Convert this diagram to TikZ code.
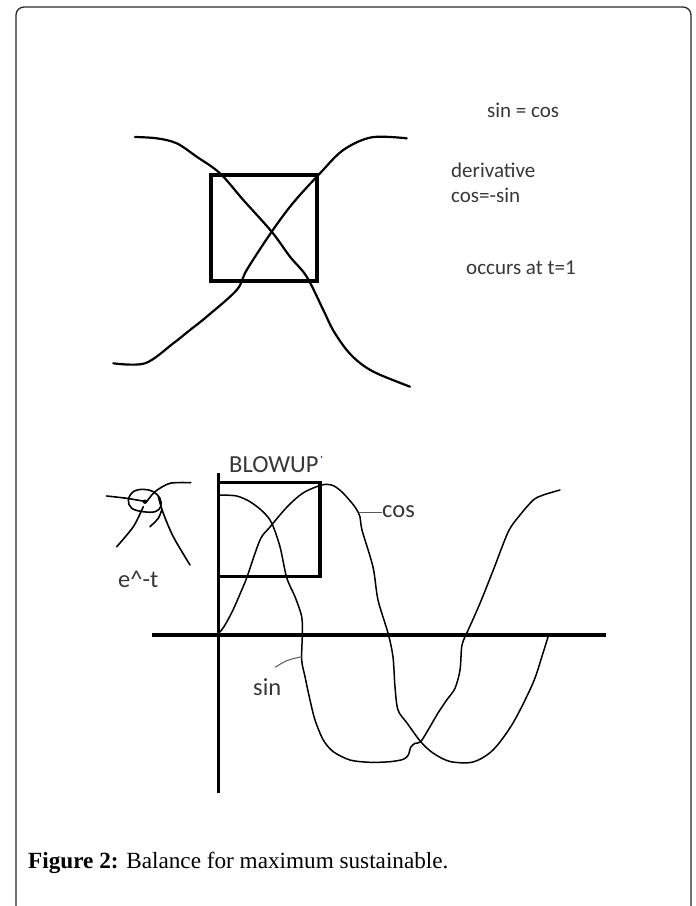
\documentclass[tikz,border=0pt]{standalone}
\usepackage{fontspec}
\setmainfont{Liberation Serif}
\newfontfamily\carlfont{Carlito}
\definecolor{txtgray}{RGB}{55,55,55}
\definecolor{framegray}{RGB}{40,40,40}
\definecolor{leadgray}{RGB}{90,90,90}
\begin{document}
\begin{tikzpicture}[x=1pt,y=-1pt,
  lbl/.style={anchor=base west,inner sep=0pt,text=txtgray,font=\carlfont\fontsize{21}{25}\selectfont},
  lblb/.style={anchor=base west,inner sep=0pt,text=txtgray,font=\carlfont\fontsize{24.5}{29}\selectfont},
  bigcurve/.style={line width=2.2pt,line join=round,line cap=round},
  smallcurve/.style={line width=1.5pt,line join=round,line cap=round},
  scribble/.style={line width=1.6pt,line join=round,line cap=round},
  heavybox/.style={line width=4pt},
  axisln/.style={line width=3.6pt},
  leader/.style={line width=1pt,draw=leadgray},
  framestyle/.style={line width=1.3pt,draw=framegray,rounded corners=8pt}]
\useasboundingbox (0,0) rectangle (696,906);
% frame (open at the bottom)
\draw[framestyle] (16,910) -- (16,7) -- (691,7) -- (691,910);

% ---------- top figure ----------
\draw[heavybox] (211.3,175.3) rectangle (317.3,280.7);
\draw[bigcurve] plot[smooth,tension=0.55] coordinates {
  (135,137) (156.7,138.3) (176.7,143.3) (196.7,156.7) (220,173.3) (243.3,200)
  (271.7,231.7) (290,256.7) (306.7,276.7) (323.3,310) (333,330) (346.7,350)
  (360,363) (376.7,373.3) (410,386.7)};
\draw[bigcurve] plot[smooth,tension=0.55] coordinates {
  (113.3,363.3) (145,363.3) (173.3,343.3) (190,330) (206.7,316.7) (236.7,290)
  (246.7,270) (271.7,231.7) (293,203) (320,173.3) (343.3,150) (371.7,137.3) (406.7,138.3)};

\node[lbl] (sincos) at (487,117) {sin = cos};
\node[lbl] (deriv) at (451,177) {derivative};
\node[lbl] (cosmsin) at (451,202) {cos=-sin};
\node[lbl] (occurs) at (466,274) {occurs at t=1};

% ---------- bottom figure ----------
\draw[axisln] (218.5,473) -- (218.5,793);
\draw[axisln] (152,635) -- (606,635);
\draw[heavybox,line width=3.4pt] (218.5,482.4) rectangle (320,576.6);

% curve labelled cos
\draw[smallcurve] plot[smooth,tension=0.5] coordinates {
  (220,632) (225,625) (233,610) (243,587) (247,577) (260,540) (270,527)
  (287,507) (303,493) (321.7,485) (333,485.5) (343,493) (355,507) (360,517)
  (362,530) (373,567) (378,600) (388,633) (393,657) (395,687) (398,710)
  (407,723) (420.7,741.7) (433,753) (450,761.5) (473,762) (493,750) (513,723)
  (533,683) (543,653) (548,637)};
% curve labelled sin
\draw[smallcurve] plot[smooth,tension=0.5] coordinates {
  (220,495) (236.7,496) (250,501.7) (263,511.7) (271.7,523) (280,546.7)
  (286.7,577.7) (295,596.7) (301.7,616.7) (302.3,635) (301.7,660) (305,676.7)
  (310,700) (315,720) (323.3,740) (333.3,751.7) (350,760) (370,762.3)
  (390,761.7) (403.3,759.3) (408.3,755) (410.7,747.3) (415,743.3) (420.7,741.7)
  (430,726.7) (438,713) (446.7,700) (455,688.3) (460,670) (461.7,646.7)
  (465,636.7) (466.7,633.3) (480,603.3) (493.3,570) (508.3,531.7) (520,515)
  (533.3,500) (543.3,495) (560,490)};

% leaders
\coordinate (cosfoot) at (359,512);
\coordinate (sinfoot) at (301.7,656.7);
\node[lblb] (coslbl) at (382,517) {cos};
\node[lblb] (sinlbl) at (253,695) {sin};
\draw[leader] (cosfoot) -- (coslbl.west |- cosfoot);
\draw[leader] (sinfoot) .. controls (287,660) .. (275,667.3);

\node[lblb] (blowup) at (229,472) {BLOWUP};
\fill[blue] (321.5,457) circle (0.9);

% e^-t scribble
\draw[scribble] plot[smooth,tension=0.5] coordinates {(106.7,496) (126.7,498.3) (146.7,501.7)};
\draw[scribble] plot[smooth cycle,tension=0.6] coordinates {
  (133.3,491.7) (143.3,489.3) (153.3,491.7) (160,498.3) (160.7,506.7)
  (155,511.7) (143.3,511.7) (131.7,508.3) (128.3,500)};
\draw[scribble] plot[smooth,tension=0.5] coordinates {(146.7,501.7) (155,491.7) (170,483.3) (190.7,482.7)};
\draw[scribble] plot[smooth,tension=0.5] coordinates {(143.3,506.7) (133.3,526.7) (116.7,546.7)};
\draw[scribble] plot[smooth,tension=0.5] coordinates {(150,526.7) (158.3,518.3) (161.7,510)};
\draw[scribble] plot[smooth,tension=0.5] coordinates {(158.3,496.7) (163.3,513.3) (173.3,536.7) (190,565)};
\fill (145,501.7) circle (2.2);
\node[lblb] (emt) at (118,587) {e\^{}-t};

% ---------- caption ----------
\node[anchor=base west,inner sep=0pt,font=\fontsize{23.2}{28}\selectfont] (caption) at (28,868)
  {\textbf{Figure 2:} Balance for maximum sustainable.};
\end{tikzpicture}
\end{document}
